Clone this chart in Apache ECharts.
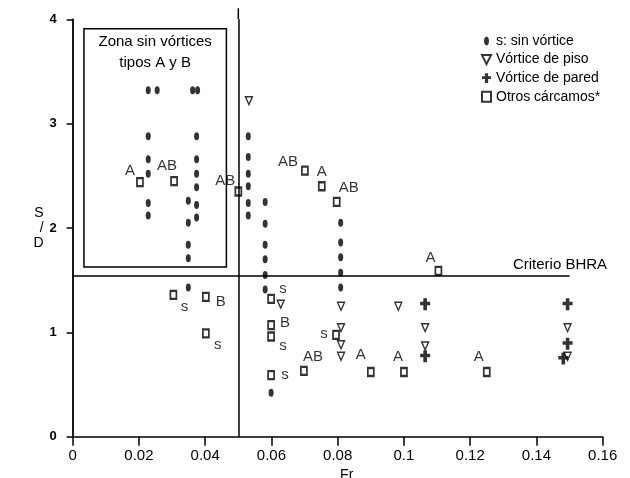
<!DOCTYPE html>
<html><head><meta charset="utf-8">
<script src="https://cdn.jsdelivr.net/npm/echarts@6/dist/echarts.min.js"></script>
<style>html,body{margin:0;padding:0;background:#fff}#c{width:630px;height:478px}</style>
</head><body><div id="c"></div>
<script>
// ---- data ----
const seriesNames = ['s: sin vórtice', 'Vórtice de piso', 'Vórtice de pared', 'Otros cárcamos*'];

const sinVorticeFr = [0.0228,0.0255,0.0228,0.0228,0.0228,0.0228,0.0228,
  0.0362,0.0377,0.0374,0.0374,0.0374,0.0374,0.0374,0.0374,
  0.0349,0.0349,0.0349,0.0349,0.0349,
  0.0530,0.0530,0.0530,0.0530,0.0530,0.0530,
  0.0581,0.0581,0.0581,0.0581,0.0581,0.0581,0.0599,
  0.0809,0.0809,0.0809,0.0809,0.0809];
const sinVorticeSD = [3.32,3.32,2.88,2.66,2.52,2.24,2.12,
  3.32,3.32,2.88,2.66,2.52,2.39,2.22,2.10,
  2.26,2.05,1.84,1.71,1.43,
  2.88,2.68,2.52,2.40,2.24,2.12,
  2.25,2.04,1.84,1.70,1.55,1.41,0.42,
  2.05,1.86,1.72,1.57,1.43];

const pisoFr = [0.0532,0.0628,0.0810,0.0810,0.0810,0.0810,0.0983,0.1064,0.1064,0.1494,0.1494];
const pisoSD = [3.22,1.27,1.25,1.045,0.88,0.77,1.25,1.045,0.87,1.045,0.77];

const paredFr = [0.1064,0.1064,0.1494,0.1494,0.1481];
const paredSD = [1.27,0.77,1.27,0.89,0.75];

const otrosFr = [0.0203,0.0306,0.0500,0.0701,0.0752,0.0797,0.0304,0.0402,0.0402,0.0599,0.0599,0.0599,0.0599,0.0698,0.0795,0.0900,0.1000,0.1104,0.1250];
const otrosSD = [2.44,2.45,2.35,2.55,2.40,2.25,1.36,1.34,0.99,1.32,1.07,0.96,0.59,0.63,0.975,0.62,0.62,1.59,0.62];
const otrosTipo = ['A','AB','AB','AB','A','AB','s','B','s','s','B','s','s','AB','s','A','A','A','A'];

const xTickValues = [0,0.02,0.04,0.06,0.08,0.1,0.12,0.14,0.16];
const yTickValues = [0,1,2,3,4];
const criterioBHRA = 1.54;
const frLimite = 0.05;
const zonaFr = [0.0034, 0.0464];
const zonaSD = [1.626, 3.91];
const zonaTexto = 'Zona sin vórtices\ntipos A y B';
const criterioTexto = 'Criterio BHRA';

// ---- style only: label placement (pixels) for the box labels ----
const otrosLabelOffset = [[-10,-11],[-7,-15],[-13,-11],[-17,-9],[0,-14],[12,-14],[11,12],[15,5],[12,11],[12,-10],[14,-2],[12,9],[14,0],[9,-14],[-12,-1],[-10,-17],[-6,-15],[-8,-13],[-8,-15]];

const INK = '#000';
const FONT = 'Liberation Sans, Arial, sans-serif';
const crossPath = 'path://M3,0 H7 V3.5 H10.5 V7 H7 V12 H3 V7 H-0.5 V3.5 H3 Z';
const triPath = 'path://M0,0 L10,0 L5,10 Z';
const dotLegend = 'path://M0,0 M9,0 M9,10 M0,10 M4.5,0.5 C7.8,0.5 7.8,9.5 4.5,9.5 C1.2,9.5 1.2,0.5 4.5,0.5 Z';

const zip = (a, b) => a.map((v, i) => [v, b[i]]);

const chart = echarts.init(document.getElementById('c'), null, {renderer: 'canvas'});
chart.setOption({
  backgroundColor: '#fff',
  animation: false,
  textStyle: {fontFamily: FONT, color: INK},
  grid: {left: 72.7, right: 27.3, top: 19.3, bottom: 41.3, containLabel: false, outerBoundsMode: 'none'},
  legend: {
    orient: 'vertical', left: 481, top: 34, padding: 0,
    itemWidth: 9, itemHeight: 10, itemGap: 4.6,
    textStyle: {fontSize: 14, color: INK, fontFamily: FONT},
    data: [
      {name: seriesNames[0], icon: dotLegend},
      {name: seriesNames[1]},
      {name: seriesNames[2]},
      {name: seriesNames[3]}
    ]
  },
  xAxis: {
    type: 'value', min: 0, max: 0.16, interval: 0.02,
    name: 'Fr', nameLocation: 'middle', nameGap: 30,
    nameTextStyle: {fontSize: 14, color: INK, padding: [0,0,0,18]},
    axisLine: {lineStyle: {color: INK, width: 1.5}},
    axisTick: {length: 9, lineStyle: {color: INK, width: 1.5}},
    axisLabel: {fontSize: 15, color: INK, margin: 12,
      formatter: v => String(xTickValues.find(t => Math.abs(t - v) < 1e-9) ?? v)},
    splitLine: {show: false}
  },
  yAxis: {
    type: 'value', min: 0, max: 4, interval: 1,
    name: 'S\n/\nD', nameLocation: 'middle', nameGap: 28, nameRotate: 0,
    nameTextStyle: {fontSize: 14, color: INK, lineHeight: 15},
    axisLine: {show: true, lineStyle: {color: INK, width: 1.8}},
    axisTick: {show: true, length: 6, lineStyle: {color: INK, width: 1.5}},
    axisLabel: {fontSize: 13, fontWeight: 'bold', color: INK, margin: 16,
      formatter: v => String(yTickValues.find(t => t === v) ?? v)},
    splitLine: {show: false}
  },
  series: [
    {
      name: seriesNames[0], type: 'scatter', clip: false,
      symbol: 'circle', symbolSize: [5, 8],
      itemStyle: {color: INK},
      data: zip(sinVorticeFr, sinVorticeSD),
      markLine: {
        silent: true, symbol: 'none', animation: false,
        label: {show: false},
        lineStyle: {color: INK, width: 1.5, type: 'solid'},
        data: [
          [{coord: [frLimite, 0]}, {coord: [frLimite, 4]}],
          [{coord: [0, criterioBHRA]}, {coord: [0.150, criterioBHRA]}]
        ]
      },
      markArea: {
        silent: true,
        itemStyle: {color: 'rgba(0,0,0,0)', borderColor: INK, borderWidth: 1.5},
        label: {show: true, position: 'insideTop', distance: 3, formatter: zonaTexto,
          fontSize: 15, lineHeight: 21, color: INK, fontFamily: FONT, align: 'center'},
        data: [[{coord: [zonaFr[0], zonaSD[1]]}, {coord: [zonaFr[1], zonaSD[0]]}]]
      },
      markPoint: {
        silent: true, symbol: 'circle', symbolSize: 0,
        label: {show: true, position: 'inside', formatter: criterioTexto, fontSize: 15, color: INK, fontFamily: FONT},
        data: [{coord: [0.1471, criterioBHRA + 0.105]}]
      }
    },
    {
      name: seriesNames[1], type: 'scatter',
      symbol: triPath, symbolSize: [7, 8],
      itemStyle: {color: '#fff', borderColor: INK, borderWidth: 1.4},
      data: zip(pisoFr, pisoSD)
    },
    {
      name: seriesNames[2], type: 'scatter',
      symbol: crossPath, symbolSize: [10, 12],
      itemStyle: {color: INK},
      data: zip(paredFr, paredSD)
    },
    {
      name: seriesNames[3], type: 'scatter',
      symbol: 'rect', symbolSize: [6, 8],
      itemStyle: {color: '#fff', borderColor: INK, borderWidth: 2},
      label: {show: true, position: 'inside', fontSize: 15, color: INK, fontFamily: FONT,
        formatter: p => otrosTipo[p.dataIndex]},
      data: otrosFr.map((f, i) => ({
        value: [f, otrosSD[i]],
        label: {offset: otrosLabelOffset[i]}
      }))
    }
  ]
});

// short extension of the Fr = 0.05 line above the top of the axis, placed via the chart's own scale
const pTop = chart.convertToPixel({gridIndex: 0}, [frLimite, 4]);
chart.setOption({
  graphic: [{
    type: 'line', silent: true,
    shape: {x1: pTop[0], y1: pTop[1], x2: pTop[0], y2: pTop[1] - 11},
    style: {stroke: INK, lineWidth: 1.5}
  }]
});
</script>
</body></html>
